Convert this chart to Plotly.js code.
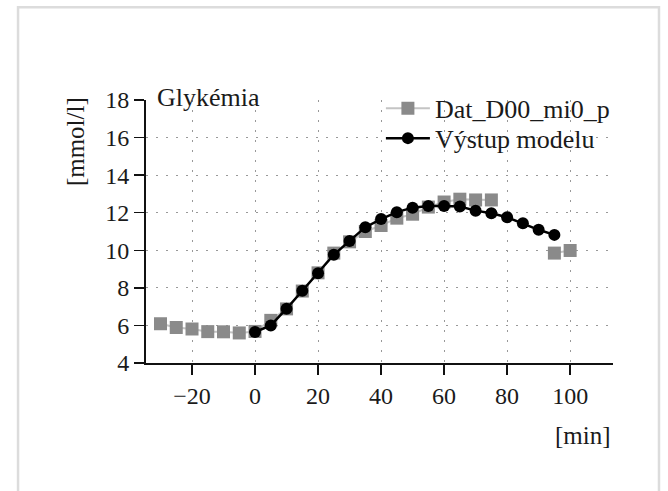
<!DOCTYPE html>
<html>
<head>
<meta charset="utf-8">
<script src="https://cdn.plot.ly/plotly-3.0.1.min.js"></script>
<style>html,body{margin:0;padding:0;background:#fff;}#chart{width:668px;height:491px;}</style>
</head>
<body>
<div id="chart"></div>
<script>
// time points [min]
var tData = [-30,-25,-20,-15,-10,-5,0,5,10,15,20,25,30,35,40,45,50,55,60,65,70,75,80,85,90,95,100];
// measured glycemia [mmol/l]
var gData = [6.09,5.89,5.81,5.67,5.66,5.60,5.68,6.27,6.88,7.83,8.80,9.85,10.45,11.0,11.32,11.71,11.92,12.3,12.57,12.72,12.68,12.68,null,null,null,9.85,9.99];
// model time points
var tModel = [0,5,10,15,20,25,30,35,40,45,50,55,60,65,70,75,80,85,90,95];
// model output
var mData = [5.65,6.0,6.89,7.84,8.78,9.76,10.5,11.23,11.66,12.03,12.27,12.36,12.36,12.33,12.11,11.97,11.76,11.44,11.09,10.82];
var seriesNames = ["Dat_D00_mi0_p","Výstup modelu"];
var xTickVals = [-20,0,20,40,60,80,100];
var yTickVals = [4,6,8,10,12,14,16,18];

var F = "Liberation Serif, Times New Roman, serif";
var traces = [
  {x: tData, y: gData, name: seriesNames[0], type: "scatter", mode: "lines+markers",
   connectgaps: false, legend: "legend",
   line: {color: "#c4c4c4", width: 2},
   marker: {symbol: "square", size: 13, color: "#8a8a8a"}},
  {x: tModel, y: mData, name: seriesNames[1], type: "scatter", mode: "lines+markers",
   legend: "legend2",
   line: {color: "#000", width: 2.5},
   marker: {symbol: "circle", size: 12, color: "#000"}}
];
var axisCommon = {
  showline: true, linecolor: "#111", linewidth: 2,
  ticks: "outside", ticklen: 10, tickwidth: 1.5, tickcolor: "#111",
  showgrid: true, gridcolor: "#999", gridwidth: 1, griddash: "2px,8px",
  zeroline: false, tickfont: {family: F, size: 24, color: "#1a1a1a"}
};
var legendCommon = {xanchor: "left", yanchor: "top", bgcolor: "rgba(0,0,0,0)",
  font: {family: F, size: 26, color: "#1a1a1a"}, itemwidth: 44};
var layout = {
  width: 668, height: 491,
  margin: {l: 146, r: 55, t: 100, b: 128},
  paper_bgcolor: "#fff", plot_bgcolor: "#fff",
  font: {family: F, color: "#1a1a1a"},
  xaxis: Object.assign({}, axisCommon, {range: [-34.6, 113.6], tickmode: "array", tickvals: xTickVals}),
  yaxis: Object.assign({}, axisCommon, {range: [4, 18], tickmode: "array", tickvals: yTickVals}),
  showlegend: true,
  legend: Object.assign({}, legendCommon, {x: 0.503, y: 1.058}),
  legend2: Object.assign({}, legendCommon, {x: 0.503, y: 0.944}),
  annotations: [
    {text: "Glykémia", xref: "paper", yref: "paper", x: 0.019, y: 1.008, xanchor: "left", yanchor: "middle",
     showarrow: false, font: {family: F, size: 26, color: "#1a1a1a"}},
    {text: "[mmol/l]", xref: "paper", yref: "paper", x: -0.152, y: 0.84, xanchor: "center", yanchor: "middle",
     textangle: -90, showarrow: false, font: {family: F, size: 25, color: "#1a1a1a"}},
    {text: "[min]", xref: "paper", yref: "paper", x: 1, y: -0.276, xanchor: "right", yanchor: "middle",
     showarrow: false, font: {family: F, size: 25, color: "#1a1a1a"}}
  ],
  shapes: [
    {type: "path", xref: "paper", yref: "paper",
     path: "M -0.274,-0.6 L -0.274,1.353 L 1.0985,1.353 L 1.0985,-0.6",
     line: {color: "#dcdcdc", width: 2.5}}
  ]
};
Plotly.newPlot("chart", traces, layout, {displayModeBar: false, staticPlot: true});
</script>
</body>
</html>
